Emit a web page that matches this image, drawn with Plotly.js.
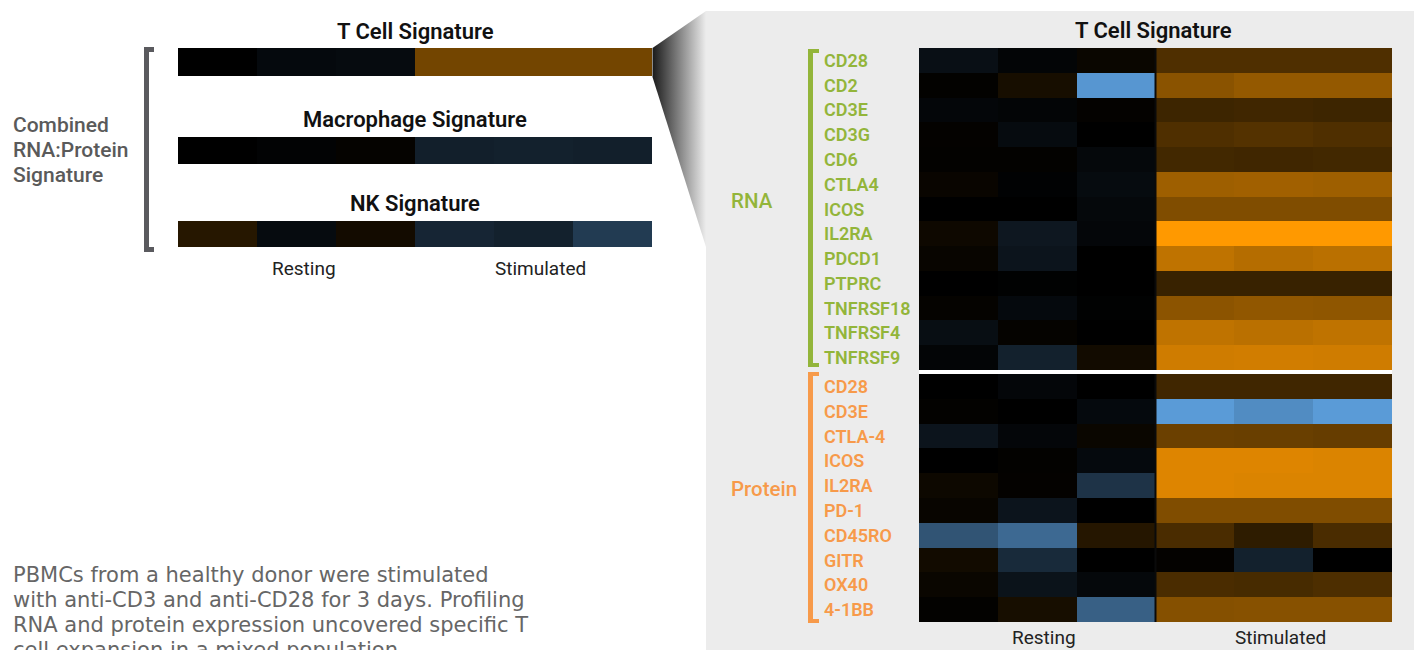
<!DOCTYPE html>
<html>
<head>
<meta charset="utf-8">
<script src="https://cdn.plot.ly/plotly-3.0.1.min.js"></script>
<style>html,body{margin:0;padding:0;background:#fff;}#chart{width:1420px;height:650px;}</style>
</head>
<body>
<div id="chart"></div>
<script>
// ---------- data ----------
const columns = ['Resting 1', 'Resting 2', 'Resting 3', 'Stimulated 1', 'Stimulated 2', 'Stimulated 3'];
const conditionLabels = ['Resting', 'Stimulated'];

const signatureTitles = ['T Cell Signature', 'Macrophage Signature', 'NK Signature'];
const tcellSignature = [0.00, -0.06, -0.07, 0.45, 0.45, 0.45];
const macrophageSignature = [0.00, -0.02, 0.02, -0.20, -0.21, -0.20];
const nkSignature = [0.15, -0.07, 0.075, -0.24, -0.21, -0.38];

const rnaGenes = ['CD28', 'CD2', 'CD3E', 'CD3G', 'CD6', 'CTLA4', 'ICOS', 'IL2RA', 'PDCD1', 'PTPRC', 'TNFRSF18', 'TNFRSF4', 'TNFRSF9'];
const rnaValues = [
  [-0.10, -0.03, 0.04, 0.31, 0.31, 0.31],
  [0.01, 0.09, -0.97, 0.54, 0.58, 0.58],
  [-0.04, -0.03, 0.015, 0.24, 0.25, 0.24],
  [0.015, -0.07, 0.00, 0.31, 0.33, 0.31],
  [0.01, 0.01, -0.05, 0.26, 0.25, 0.26],
  [0.035, -0.015, -0.07, 0.62, 0.63, 0.62],
  [0.00, 0.00, -0.05, 0.50, 0.50, 0.50],
  [0.055, -0.15, -0.04, 1.00, 1.00, 1.00],
  [0.03, -0.13, 0.00, 0.75, 0.71, 0.73],
  [0.00, -0.01, 0.00, 0.22, 0.22, 0.22],
  [0.02, -0.06, -0.01, 0.55, 0.57, 0.56],
  [-0.09, 0.02, 0.00, 0.75, 0.73, 0.75],
  [-0.03, -0.21, 0.07, 0.81, 0.82, 0.81]
];

const proteinLabels = ['CD28', 'CD3E', 'CTLA-4', 'ICOS', 'IL2RA', 'PD-1', 'CD45RO', 'GITR', 'OX40', '4-1BB'];
const proteinValues = [
  [0.00, -0.04, 0.00, 0.25, 0.25, 0.25],
  [0.01, 0.00, -0.06, -1.00, -0.90, -1.00],
  [-0.13, -0.04, 0.04, 0.42, 0.41, 0.40],
  [0.00, 0.01, -0.06, 0.87, 0.87, 0.86],
  [0.05, 0.015, -0.33, 0.87, 0.86, 0.86],
  [0.03, -0.13, 0.00, 0.50, 0.50, 0.50],
  [-0.54, -0.68, 0.145, 0.29, 0.18, 0.29],
  [0.07, -0.27, 0.00, 0.015, -0.21, 0.00],
  [0.04, -0.12, -0.05, 0.29, 0.28, 0.30],
  [0.01, 0.09, -0.62, 0.52, 0.53, 0.53]
];

const groupLabels = ['RNA', 'Protein'];
const combinedLines = ['Combined', 'RNA:Protein', 'Signature'];
const captionLines = [
  'PBMCs from a healthy donor were stimulated',
  'with anti-CD3 and anti-CD28 for 3 days. Profiling',
  'RNA and protein expression uncovered specific T',
  'cell expansion in a mixed population.'
];

// ---------- helpers ----------
const W = 1420, H = 650;
const px = v => v / W;
const py = v => 1 - v / H;
const colorscale = [[0, 'rgb(90,155,215)'], [0.5, 'rgb(0,0,0)'], [1, 'rgb(255,153,0)']];
const green = '#93B53A', orange = '#F79A4A', gray = '#5a5a5e';
const colIdx = columns.map((c, i) => i);

function hm(z, xa, ya, ylen) {
  return {
    type: 'heatmap', z: z, x: colIdx, y: Array.from({length: ylen}, (_, i) => i),
    xaxis: xa, yaxis: ya, colorscale: colorscale, zmin: -1, zmax: 1,
    showscale: false, hoverinfo: 'z'
  };
}

const traces = [
  hm([tcellSignature], 'x', 'y', 1),
  hm([macrophageSignature], 'x2', 'y2', 1),
  hm([nkSignature], 'x3', 'y3', 1),
  hm(rnaValues, 'x4', 'y4', rnaGenes.length),
  hm(proteinValues, 'x5', 'y5', proteinLabels.length),
  { // decorative zoom wedge
    type: 'scatter', mode: 'lines', xaxis: 'x6', yaxis: 'y6',
    x: [652.5, 706, 706, 652.5, 652.5], y: [48, 11, 247, 77, 48],
    line: {width: 0}, fill: 'toself', hoverinfo: 'skip',
    fillcolor: '#888',
    fillgradient: {type: 'horizontal', colorscale: [[0, '#1a1a1a'], [1, '#ececec']]}
  }
];

const hidden = {showgrid: false, zeroline: false, showticklabels: false, ticks: '', showline: false, fixedrange: true};
const leftX = [px(178), px(652)];
const rightX = [px(919), px(1392)];

const layout = {
  width: W, height: H, margin: {l: 0, r: 0, t: 0, b: 0},
  paper_bgcolor: '#ffffff', plot_bgcolor: 'rgba(0,0,0,0)', showlegend: false,
  font: {family: 'Roboto, "Open Sans", sans-serif', color: '#111'},
  xaxis: Object.assign({domain: leftX, range: [-0.5, 5.5]}, hidden),
  yaxis: Object.assign({domain: [py(76), py(48)], range: [0.5, -0.5]}, hidden),
  xaxis2: Object.assign({domain: leftX, range: [-0.5, 5.5]}, hidden),
  yaxis2: Object.assign({domain: [py(164), py(137)], range: [0.5, -0.5]}, hidden),
  xaxis3: Object.assign({domain: leftX, range: [-0.5, 5.5]}, hidden),
  yaxis3: Object.assign({domain: [py(247), py(221)], range: [0.5, -0.5]}, hidden),
  xaxis4: Object.assign({domain: rightX, range: [-0.5, 5.5]}, hidden),
  yaxis4: Object.assign({domain: [py(370), py(48)], range: [rnaGenes.length - 0.5, -0.5]}, hidden),
  xaxis5: Object.assign({domain: rightX, range: [-0.5, 5.5]}, hidden),
  yaxis5: Object.assign({domain: [py(622), py(374)], range: [proteinLabels.length - 0.5, -0.5]}, hidden),
  xaxis6: Object.assign({domain: [0, 1], range: [0, W]}, hidden),
  yaxis6: Object.assign({domain: [0, 1], range: [H, 0]}, hidden),
  shapes: [
    {type: 'rect', xref: 'paper', yref: 'paper', x0: px(706), x1: px(1414), y0: 0, y1: py(11), fillcolor: '#ececec', line: {width: 0}, layer: 'below'},
    {type: 'rect', xref: 'paper', yref: 'paper', x0: px(919), x1: px(1392), y0: py(374), y1: py(370), fillcolor: '#ffffff', line: {width: 0}, layer: 'below'},
    {type: 'line', xref: 'x4', yref: 'y4 domain', x0: 2.5, x1: 2.5, y0: 0, y1: 1, line: {color: '#0a0a0a', width: 2}},
    {type: 'line', xref: 'x5', yref: 'y5 domain', x0: 2.5, x1: 2.5, y0: 0, y1: 1, line: {color: '#0a0a0a', width: 2}},
    {type: 'rect', xref: 'paper', yref: 'paper', x0: px(144), x1: px(149), y0: py(252), y1: py(47), fillcolor: gray, line: {width: 0}},
    {type: 'rect', xref: 'paper', yref: 'paper', x0: px(144), x1: px(154), y0: py(52), y1: py(47), fillcolor: gray, line: {width: 0}},
    {type: 'rect', xref: 'paper', yref: 'paper', x0: px(144), x1: px(154), y0: py(252), y1: py(247), fillcolor: gray, line: {width: 0}},
    {type: 'rect', xref: 'paper', yref: 'paper', x0: px(808), x1: px(813), y0: py(367), y1: py(49), fillcolor: green, line: {width: 0}},
    {type: 'rect', xref: 'paper', yref: 'paper', x0: px(808), x1: px(819), y0: py(53), y1: py(49), fillcolor: green, line: {width: 0}},
    {type: 'rect', xref: 'paper', yref: 'paper', x0: px(808), x1: px(819), y0: py(367), y1: py(363), fillcolor: green, line: {width: 0}},
    {type: 'rect', xref: 'paper', yref: 'paper', x0: px(808), x1: px(813), y0: py(623), y1: py(372), fillcolor: orange, line: {width: 0}},
    {type: 'rect', xref: 'paper', yref: 'paper', x0: px(808), x1: px(819), y0: py(376), y1: py(372), fillcolor: orange, line: {width: 0}},
    {type: 'rect', xref: 'paper', yref: 'paper', x0: px(808), x1: px(819), y0: py(623), y1: py(619), fillcolor: orange, line: {width: 0}}
  ],
  annotations: []
};

const A = layout.annotations;
const titleFont = {family: 'Roboto, sans-serif', size: 22, color: '#111', weight: 600};
[[signatureTitles[0], 31], [signatureTitles[1], 119], [signatureTitles[2], 203]].forEach(([t, y]) => {
  A.push({text: t, xref: 'x', yref: 'paper', x: 2.5, y: py(y), xanchor: 'center', yanchor: 'middle', showarrow: false, font: titleFont});
});
A.push({text: signatureTitles[0], xref: 'x4', yref: 'paper', x: 2.47, y: py(30), xanchor: 'center', yanchor: 'middle', showarrow: false, font: titleFont});

const condFont = {family: 'Roboto, sans-serif', size: 19, color: '#222'};
conditionLabels.forEach((c, i) => {
  A.push({text: c, xref: 'x3', yref: 'paper', x: 1.09 + 3 * i, y: py(268), xanchor: 'center', yanchor: 'middle', showarrow: false, font: condFont});
  A.push({text: c, xref: 'x5', yref: 'paper', x: 1.09 + 3 * i, y: py(637), xanchor: 'center', yanchor: 'middle', showarrow: false, font: condFont});
});

const geneFont = c => ({family: 'Roboto, sans-serif', size: 18, color: c, weight: 600});
rnaGenes.forEach((g, i) => A.push({text: g, xref: 'paper', yref: 'y4', x: px(822), y: i, xanchor: 'left', yanchor: 'middle', showarrow: false, font: geneFont(green)}));
proteinLabels.forEach((g, i) => A.push({text: g, xref: 'paper', yref: 'y5', x: px(822), y: i, xanchor: 'left', yanchor: 'middle', showarrow: false, font: geneFont(orange)}));

A.push({text: groupLabels[0], xref: 'paper', yref: 'paper', x: px(729), y: py(201), xanchor: 'left', yanchor: 'middle', showarrow: false, font: {family: 'Roboto, sans-serif', size: 20.5, color: green, weight: 500}});
A.push({text: groupLabels[1], xref: 'paper', yref: 'paper', x: px(729), y: py(489), xanchor: 'left', yanchor: 'middle', showarrow: false, font: {family: 'Roboto, sans-serif', size: 20.5, color: orange, weight: 500}});

combinedLines.forEach((t, i) => A.push({text: t, xref: 'paper', yref: 'paper', x: px(11), y: py(125 + 25 * i), xanchor: 'left', yanchor: 'middle', showarrow: false, font: {family: 'Roboto, sans-serif', size: 21, color: '#5a5a5a', weight: 500}}));

captionLines.forEach((t, i) => A.push({text: t, xref: 'paper', yref: 'paper', x: px(11), y: py(575 + 25 * i), xanchor: 'left', yanchor: 'middle', showarrow: false, font: {family: '"DejaVu Sans", sans-serif', size: 21, color: '#666666'}}));

Plotly.newPlot('chart', traces, layout, {staticPlot: true, displayModeBar: false});
</script>
</body>
</html>
